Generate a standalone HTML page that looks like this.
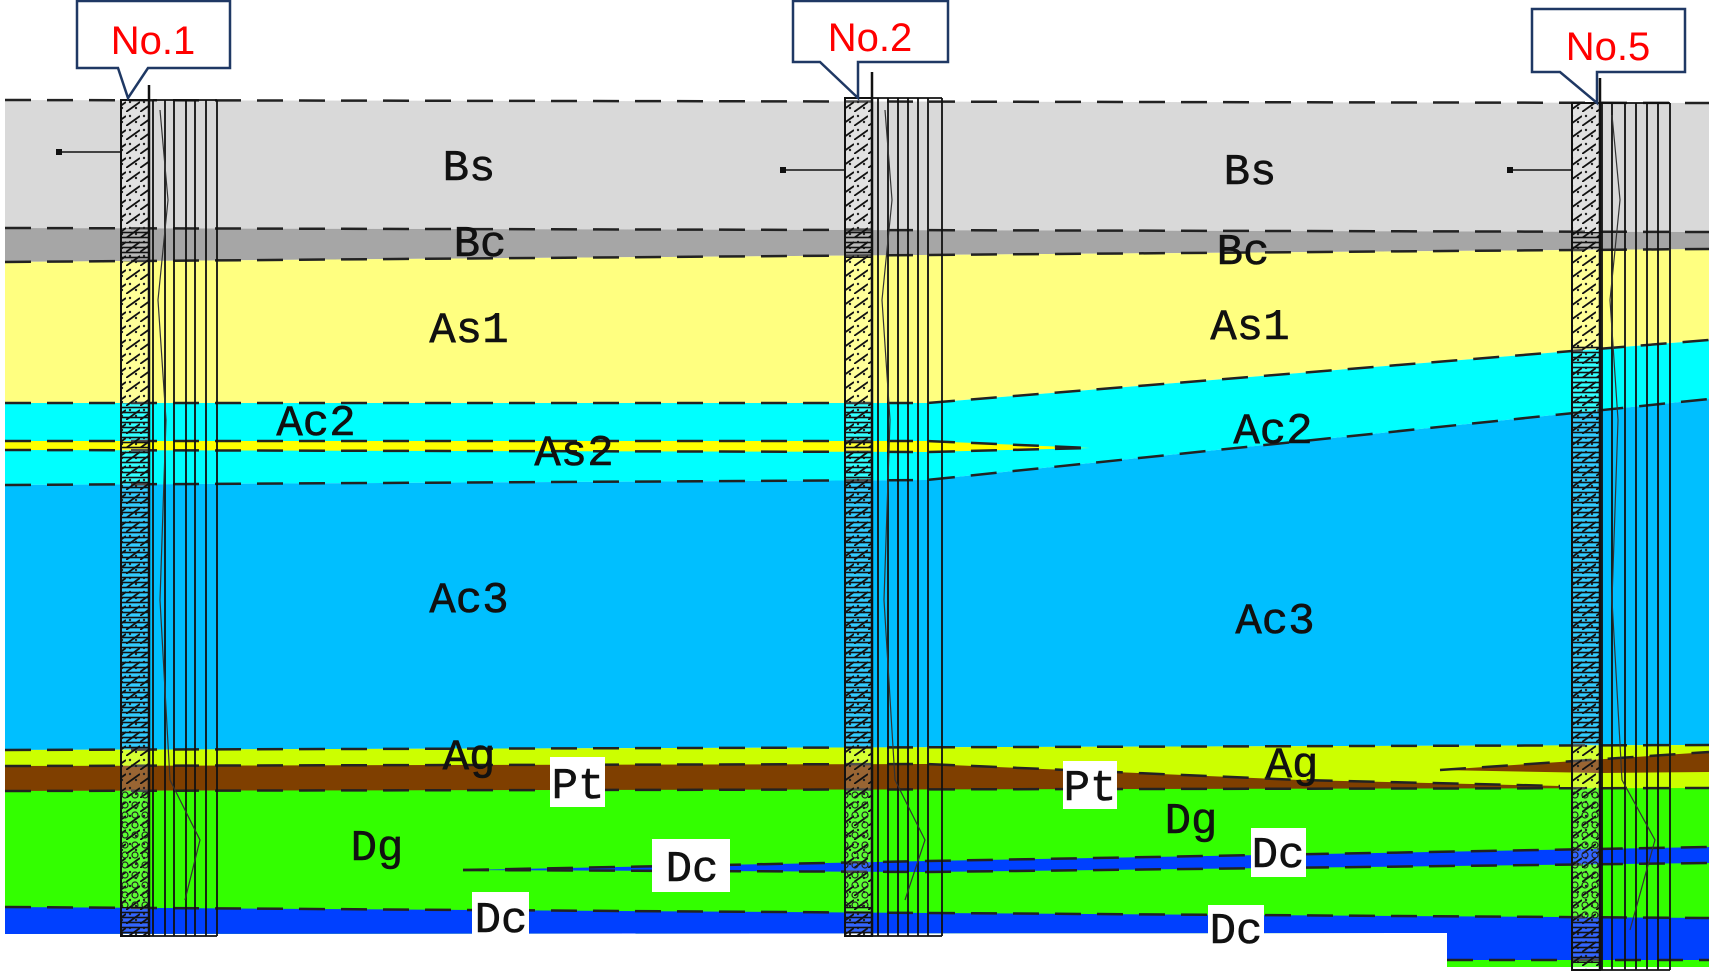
<!DOCTYPE html>
<html><head><meta charset="utf-8"><style>
html,body{margin:0;padding:0;background:#fff;}
svg{display:block;}
.lbl{font-family:"Liberation Mono","DejaVu Sans Mono",monospace;font-size:44px;fill:#111;text-anchor:middle;stroke:#111;stroke-width:0.6;}
.no{font-family:"Liberation Sans",sans-serif;font-size:40px;fill:#ff0000;text-anchor:middle;}
.d{fill:none;stroke:#222;stroke-width:2.5;stroke-dasharray:26 16;}
</style></head><body>
<svg width="1709" height="974" viewBox="0 0 1709 974" xmlns="http://www.w3.org/2000/svg">
<defs>
<pattern id="sand" width="14" height="14" patternUnits="userSpaceOnUse">
<rect width="14" height="14" fill="rgba(255,255,255,0.2)"/>
<circle cx="4" cy="4" r="1.2" fill="#222"/><circle cx="10" cy="10" r="1.2" fill="#222"/>
<path d="M0 14 L14 4" stroke="#111" stroke-width="1.8"/>
</pattern>
<pattern id="clay" width="10" height="5" patternUnits="userSpaceOnUse">
<path d="M0 2.5 H10" stroke="#111" stroke-width="1.6"/>
</pattern>
<pattern id="grav" width="10" height="10" patternUnits="userSpaceOnUse">
<circle cx="5" cy="5" r="3" fill="none" stroke="#222" stroke-width="1.2"/>
</pattern>
</defs>
<rect width="1709" height="974" fill="#fff"/>
<polygon points="5,100 1709,103 1709,232 5,228" fill="#d9d9d9"/>
<polygon points="5,228 1709,232 1709,249 5,262" fill="#a6a6a6"/>
<polygon points="5,262 1709,249 1709,340 927,403 5,403" fill="#ffff80"/>
<polygon points="5,403 927,403 1709,340 1709,399 927,480 5,485" fill="#00ffff"/>
<polygon points="5,441 927,441 1090,448 927,452 5,450" fill="#ffff00"/>
<polygon points="5,485 927,480 1709,399 1709,745 5,750" fill="#00bfff"/>
<polygon points="5,750 1709,745 1709,790 5,790" fill="#ccff00"/>
<polygon points="5,766 927,764 1300,780 1560,786 1560,789 5,791" fill="#7f3f00"/>
<polygon points="1440,770 1709,752 1709,772 1600,773" fill="#7f3f00"/>
<polygon points="5,791 1709,788 1709,967 1447,967 1447,933 5,934" fill="#33ff00"/>
<polygon points="463,870 927,861 1709,847 1709,863 927,872" fill="#0040ff"/>
<polygon points="5,907 1709,918 1709,960 1447,960 1447,933 5,934" fill="#0040ff"/>
<path class="d" d="M5,100 L1709,103"/>
<path class="d" d="M5,228 L1709,232"/>
<path class="d" d="M5,262 L1709,249"/>
<path class="d" d="M5,403 L927,403 L1709,340"/>
<path class="d" d="M5,441 L927,441 L1090,448"/>
<path class="d" d="M5,450 L927,452 L1090,448"/>
<path class="d" d="M5,485 L927,480 L1709,399"/>
<path class="d" d="M5,750 L1709,745"/>
<path class="d" d="M5,766 L927,764 L1300,780 L1560,786"/>
<path class="d" d="M1440,770 L1709,752"/>
<path class="d" d="M5,791 L1709,788"/>
<path class="d" d="M463,870 L927,861 L1709,847"/>
<path class="d" d="M463,870 L927,872 L1709,863"/>
<path class="d" d="M5,907 L1709,918"/>
<path class="d" d="M1447,960 L1709,960"/>
<g>
<rect x="121" y="100" width="28" height="836" fill="url(#sand)"/>
<rect x="121" y="228" width="28" height="34" fill="url(#clay)"/>
<rect x="121" y="403" width="28" height="347" fill="url(#clay)"/>
<rect x="121" y="791" width="28" height="116" fill="url(#grav)"/>
<rect x="121" y="907" width="28" height="29" fill="url(#clay)"/>
<rect x="121" y="100" width="28" height="836" fill="none" stroke="#111" stroke-width="2"/>
<path d="M153,100V936M165,100V936M174,100V936M186,100V936M195,100V936M206,100V936M217,100V936M121,936H217M153,100H217" stroke="#111" stroke-width="1.8" fill="none"/>
<path d="M149,85V936" stroke="#111" stroke-width="2.5"/>
<path d="M160,110 L168,200 L158,300 L166,420 L160,600 L170,780 L200,840 L185,900" stroke="#333" stroke-width="1.2" fill="none"/>
<path d="M60,152H121" stroke="#111" stroke-width="1.5"/><rect x="56" y="149" width="6" height="6" fill="#111"/>
</g>
<g>
<rect x="845" y="98" width="27" height="838" fill="url(#sand)"/>
<rect x="845" y="228" width="27" height="30" fill="url(#clay)"/>
<rect x="845" y="403" width="27" height="347" fill="url(#clay)"/>
<rect x="845" y="791" width="27" height="116" fill="url(#grav)"/>
<rect x="845" y="907" width="27" height="29" fill="url(#clay)"/>
<rect x="845" y="98" width="27" height="838" fill="none" stroke="#111" stroke-width="2"/>
<path d="M878,98V936M888,98V936M898,98V936M908,98V936M918,98V936M928,98V936M942,98V936M845,936H942M872,98H942" stroke="#111" stroke-width="1.8" fill="none"/>
<path d="M872,72V936" stroke="#111" stroke-width="2.5"/>
<path d="M885,110 L892,200 L882,300 L890,420 L884,600 L895,780 L925,840 L905,900" stroke="#333" stroke-width="1.2" fill="none"/>
<path d="M784,170H845" stroke="#111" stroke-width="1.5"/><rect x="780" y="167" width="6" height="6" fill="#111"/>
</g>
<g>
<rect x="1572" y="103" width="28" height="867" fill="url(#sand)"/>
<rect x="1572" y="232" width="28" height="17" fill="url(#clay)"/>
<rect x="1572" y="345" width="28" height="400" fill="url(#clay)"/>
<rect x="1572" y="788" width="28" height="130" fill="url(#grav)"/>
<rect x="1572" y="918" width="28" height="45" fill="url(#clay)"/>
<rect x="1572" y="103" width="28" height="867" fill="none" stroke="#111" stroke-width="2"/>
<path d="M1602,103V970M1612,103V970M1625,103V970M1636,103V970M1647,103V970M1658,103V970M1670,103V970M1572,970H1670M1600,103H1670" stroke="#111" stroke-width="1.8" fill="none"/>
<path d="M1600,78V970" stroke="#111" stroke-width="2.5"/>
<path d="M1612,115 L1620,200 L1610,300 L1618,420 L1612,600 L1622,780 L1655,840 L1630,930" stroke="#333" stroke-width="1.2" fill="none"/>
<path d="M1511,170H1572" stroke="#111" stroke-width="1.5"/><rect x="1507" y="167" width="6" height="6" fill="#111"/>
</g>
<path d="M77,1 H230 V68 H148 L128,98 L118,68 H77 Z" fill="#fff" stroke="#1f3864" stroke-width="2.5"/>
<text class="no" x="153" y="54">No.1</text>
<path d="M793,1 H948 V62 H858 L858,98 L820,62 H793 Z" fill="#fff" stroke="#1f3864" stroke-width="2.5"/>
<text class="no" x="870" y="51">No.2</text>
<path d="M1532,9 H1685 V72 H1597 L1597,103 L1560,72 H1532 Z" fill="#fff" stroke="#1f3864" stroke-width="2.5"/>
<text class="no" x="1608" y="60">No.5</text>
<rect x="550" y="757" width="55" height="50" fill="#fff"/>
<rect x="652" y="839" width="78" height="53" fill="#fff"/>
<rect x="472" y="892" width="57" height="43" fill="#fff"/>
<rect x="1063" y="761" width="54" height="48" fill="#fff"/>
<rect x="1251" y="828" width="55" height="49" fill="#fff"/>
<rect x="1208" y="905" width="56" height="43" fill="#fff"/>
<text class="lbl" x="469" y="180">Bs</text>
<text class="lbl" x="480" y="256">Bc</text>
<text class="lbl" x="469" y="342">As1</text>
<text class="lbl" x="316" y="435">Ac2</text>
<text class="lbl" x="574" y="465">As2</text>
<text class="lbl" x="469" y="612">Ac3</text>
<text class="lbl" x="469" y="769">Ag</text>
<text class="lbl" x="578" y="798">Pt</text>
<text class="lbl" x="377" y="860">Dg</text>
<text class="lbl" x="692" y="881">Dc</text>
<text class="lbl" x="501" y="932">Dc</text>
<text class="lbl" x="1250" y="184">Bs</text>
<text class="lbl" x="1243" y="264">Bc</text>
<text class="lbl" x="1250" y="339">As1</text>
<text class="lbl" x="1273" y="443">Ac2</text>
<text class="lbl" x="1275" y="633">Ac3</text>
<text class="lbl" x="1292" y="777">Ag</text>
<text class="lbl" x="1090" y="800">Pt</text>
<text class="lbl" x="1191" y="833">Dg</text>
<text class="lbl" x="1278" y="867">Dc</text>
<text class="lbl" x="1236" y="943">Dc</text>
</svg>
</body></html>
